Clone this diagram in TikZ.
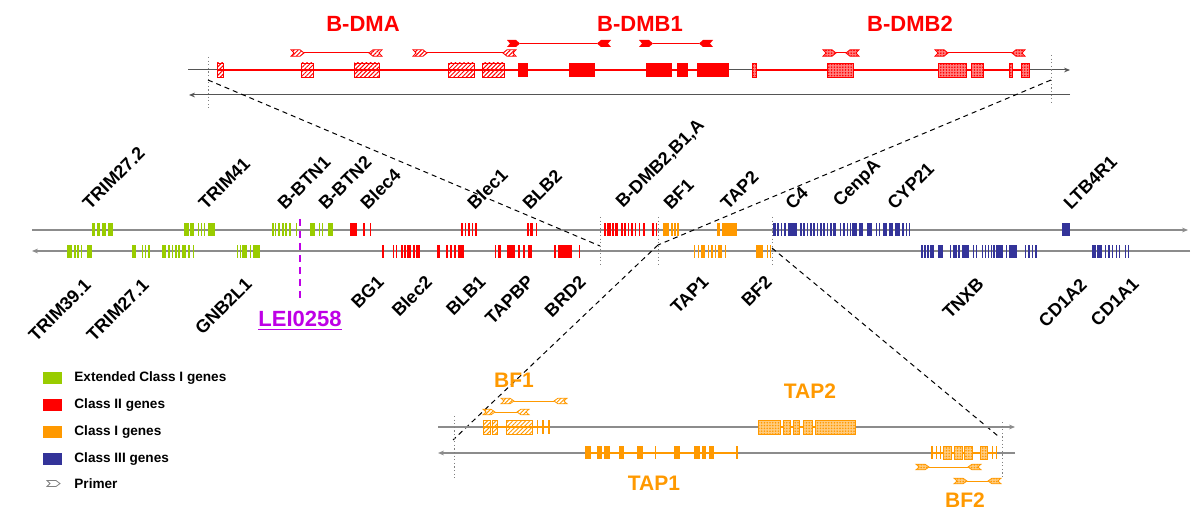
\documentclass[tikz,border=0pt]{standalone}
\usepackage{fontspec}
\setmainfont{Liberation Sans}
\usetikzlibrary{patterns.meta,arrows.meta}
\definecolor{cgreen}{RGB}{153,204,0}
\definecolor{cred}{RGB}{255,0,0}
\definecolor{corange}{RGB}{255,153,0}
\definecolor{cblue}{RGB}{51,51,153}
\definecolor{cmag}{RGB}{190,0,230}
\definecolor{lgray}{RGB}{140,140,140}
\definecolor{dgray}{RGB}{85,85,85}
\tikzset{
  hatchx/.style={pattern={Lines[angle=45,distance=1.5pt,line width=0.5pt]}, pattern color=#1, draw=#1, line width=0.4pt},
  checkx/.style={preaction={fill=#1!50}, pattern={Dots[radius=0.45pt,distance=1.4pt]}, pattern color=#1, draw=#1, line width=0.4pt},
  solidx/.style={fill=#1},
  glab/.style={font=\bfseries\fontsize{9}{9}\selectfont, rotate=45, inner sep=0pt},
  uplab/.style={glab, anchor=south west},
  lowlab/.style={glab, anchor=north east},
  title/.style={font=\bfseries\fontsize{11}{11}\selectfont, text=#1, inner sep=0pt},
  btitle/.style={font=\bfseries\fontsize{10.5}{10.5}\selectfont, text=corange, inner sep=0pt},
  mainline/.style={lgray, line width=0.75pt},
  panelline/.style={dgray, line width=0.5pt},
  tipx/.style={-{Stealth[length=3pt,width=2.4pt]}},
  dashx/.style={black, dash pattern=on 2.5pt off 2pt, line width=0.5pt},
  dotx/.style={gray, dash pattern=on 0.6pt off 1.2pt, line width=0.5pt},
  legtext/.style={font=\bfseries\fontsize{6.8}{6.8}\selectfont, anchor=west, inner sep=0pt},
}
% exons: style, ytop, ybottom, list a/b
\newcommand\exonset[4]{\foreach \a/\b in {#4} {\path[#1] (\a,#2) rectangle (\b,#3);}}
% forward primer x1 x2 y h style
\newcommand\fwdprim[5]{\path[#5] (#1,#3-#4) -- (#2-4,#3-#4) -- (#2,#3) -- (#2-4,#3+#4) -- (#1,#3+#4) -- (#1+3,#3) -- cycle;}
\newcommand\revprim[5]{\path[#5] (#2,#3-#4) -- (#1+4,#3-#4) -- (#1,#3) -- (#1+4,#3+#4) -- (#2,#3+#4) -- (#2-3,#3) -- cycle;}
% pair: x1 x2 x3 x4 y h style color
\newcommand\primpair[8]{\draw[#8, line width=0.5pt] (#2,#5) -- (#3,#5); \fwdprim{#1}{#2}{#5}{#6}{#7} \revprim{#3}{#4}{#5}{#6}{#7}}
\begin{document}
\begin{tikzpicture}[x=0.5pt,y=-0.5pt]
\path[use as bounding box] (0,0) rectangle (1200,518);

% ---------------- coordinates for zoom connectors
\coordinate (tl) at (208,80);
\coordinate (tr) at (1051,80);
\coordinate (ml) at (600,246);
\coordinate (mr) at (658,245);
\coordinate (ml2) at (658,245);
\coordinate (mr2) at (772,248);
\coordinate (bl) at (453,440);
\coordinate (br) at (998,436);

% ---------------- top panel
\draw[panelline, tipx] (188,70) -- (1070,70);
\draw[panelline, tipx] (1070,95) -- (189,95);
\draw[cred, line width=0.6pt] (218,70) -- (729,70);
\draw[cred, line width=0.6pt] (752,70) -- (1029,70);
\draw[dotx] (208,57) -- (208,108);
\draw[dotx] (1051,55) -- (1051,105);
\exonset{hatchx=cred}{63}{77}{217/223,301/313,354/379,448/474,482/504}
\exonset{solidx=cred}{63}{77}{518/528,569/595,646/672,677/688,697/729}
\exonset{checkx=cred}{63}{77}{752/756,827/853,938/966,971/983,1009/1012,1021/1029}
\primpair{291}{304}{369}{382}{53}{3.2}{hatchx=cred}{cred}
\primpair{413}{427}{503}{516}{53}{3.2}{hatchx=cred}{cred}
\primpair{507}{520}{597}{611}{43.5}{3.5}{solidx=cred}{cred}
\primpair{639}{653}{699}{713}{43.5}{3.5}{solidx=cred}{cred}
\primpair{823}{836}{846}{859}{53}{3.2}{checkx=cred}{cred}
\primpair{935}{948}{1012}{1025}{53}{3.2}{checkx=cred}{cred}
\node[title=cred] (tdma) at (363,24) {B-DMA};
\node[title=cred] (tdmb1) at (640,24) {B-DMB1};
\node[title=cred] (tdmb2) at (910,24) {B-DMB2};

% ---------------- main panel
\draw[mainline, tipx] (32,230) -- (1188,230);
\draw[mainline, tipx] (1190,251) -- (32,251);
% forward strand exons
\exonset{solidx=cgreen}{223}{236}{92/95,97/99.5,102/106,108/113,
 184/189,190/194,197.5/199,200.5/202,203.5/205,208/215,
 272/273.5,274.5/276,278/279.5,282/283.5,285/286.5,289/290.5,295.5/297,
 310/315,318.5/320,321.5/323,328/333}
\exonset{solidx=cred}{223}{236}{350/357,363/364.5,369.5/371,
 461/462.5,464.5/466,468/469.5,471.5/473,475/476.5,
 527/528.5,529.5/533,535.5/537,
 604/605.5,607/611,612/613.5,614.5/618,621/622.5,624/626,627.5/629,631/633,634.5/636,638.5/640,643/644.5,652/653.5,655.5/657}
\exonset{solidx=corange}{223}{236}{663/669,671/672.5,674/675.5,677/678.5,717/720,722/737}
\exonset{solidx=cblue}{223}{236}{773/775.5,777/778.5,780.5/782,784/786,788/797,
 800/801.5,803/804.5,806.5/808,810/811.5,813/814.5,816.5/818,820/821.5,823/824.5,826.5/828,830/831.5,
 833/836,839.5/841,843/844.5,846.5/848,849.5/851,852/857,858.5/863,867/872,875.5/877,878.5/880,883/887,888.5/893,895/900,902/903.5,905.5/907,908.5/910,
 1062/1070}
% reverse strand exons
\exonset{solidx=cgreen}{245}{258}{67/72,74/75.5,77/78.5,80.5/82,87/92,
 132/136,141.5/143,144.5/146,148/149.5,
 162/166,168/169.5,171.5/173,175/176.5,178/179.5,182/186,188/189.5,192.5/194,
 236.5/238,239.5/241,242/247,249.5/251,253/260}
\exonset{solidx=cred}{245}{258}{382/383.5,392.5/394,395.5/397,
 401/402.5,404/406,406.5/411,413/414.5,416/420,
 436.5/440,446/447.5,450/451.5,454/455.5,458/464,
 494.5/496,498/501,507/515,518/519.5,523/524.5,528/532,
 554/555.5,558/572,578.5/580}
\exonset{solidx=corange}{245}{258}{693.5/695,697.5/699,701/705,707.5/709,711/712.5,714.5/716,718/722,724.5/726,
 756/763,766.5/768,769.5/771}
\exonset{solidx=cblue}{245}{258}{921/922.5,924/925.5,927/928.5,930/933.5,938/943,949.5/951,953/957,958/960,962/969,972.5/974,975.5/977,981.5/983,984.5/986,987.5/989,990.5/992,993/994.5,996/1003,1005.5/1007,1009/1017,1024.5/1026,1028/1029.5,1031.5/1033,1035/1037,
 1092/1095.5,1096.5/1102,1104.5/1106,1108/1109.5,1111.5/1113,1115.5/1117,1118.5/1120,1124.5/1126,1127.5/1129}
% dotted region marks
\draw[dotx] (600,217) -- (600,265);
\draw[dotx] (658,217) -- (658,265);
\draw[dotx] (772,217) -- (772,265);
% LEI0258
\draw[cmag, line width=1.1pt, dash pattern=on 3.5pt off 2.5pt] (300,219) -- (300,300);
\node[font=\bfseries\fontsize{11}{11}\selectfont, text=cmag, inner sep=0pt] (lei) at (300,321) {\underline{LEI0258}};
% gene labels
\node[uplab] (g1) at (90,211) {TRIM27.2};
\node[uplab] (g2) at (206,211) {TRIM41};
\node[uplab] (g3) at (285,211) {B-BTN1};
\node[uplab] (g4) at (326,211) {B-BTN2};
\node[uplab] (g5) at (368,211) {Blec4};
\node[uplab] (g6) at (475,211) {Blec1};
\node[uplab] (g7) at (530,211) {BLB2};
\node[uplab] (g8) at (625,211) {B-DMB2,B1,A};
\node[uplab] (g9) at (671,211) {BF1};
\node[uplab] (g10) at (728,211) {TAP2};
\node[uplab] (g11) at (793,211) {C4};
\node[uplab] (g12) at (843,211) {CenpA};
\node[uplab] (g13) at (895,211) {CYP21};
\node[uplab] (g14) at (1071,211) {LTB4R1};
\node[lowlab] (h1) at (83,277) {TRIM39.1};
\node[lowlab] (h2) at (141,277) {TRIM27.1};
\node[lowlab] (h3) at (244,276) {GNB2L1};
\node[lowlab] (h4) at (376,274) {BG1};
\node[lowlab] (h5) at (424,274) {Blec2};
\node[lowlab] (h6) at (478,274) {BLB1};
\node[lowlab] (h7) at (526,274) {TAPBP};
\node[lowlab] (h8) at (578,274) {BRD2};
\node[lowlab] (h9) at (701,274) {TAP1};
\node[lowlab] (h10) at (764,274) {BF2};
\node[lowlab] (h11) at (976,276) {TNXB};
\node[lowlab] (h12) at (1079,277) {CD1A2};
\node[lowlab] (h13) at (1131,276) {CD1A1};

% ---------------- zoom connectors
\draw[dashx] (tl) -- (ml);
\draw[dashx] (tr) -- (mr);
\draw[dashx] (ml2) -- (bl);
\draw[dashx] (mr2) -- (br);

% ---------------- bottom panel
\draw[lgray, line width=0.6pt, tipx] (438,427) -- (1015,427);
\draw[lgray, line width=0.6pt, tipx] (1015,453) -- (438,453);
\draw[dotx] (454,416) -- (454,479);
\draw[dotx] (1002,422) -- (1002,479);
\draw[corange, line width=0.6pt] (483,427) -- (549,427);
\draw[corange, line width=0.6pt] (758,427) -- (855,427);
\draw[corange, line width=0.6pt] (585,453) -- (737,453);
\draw[corange, line width=0.6pt] (931,453) -- (997,453);
\exonset{hatchx=corange}{420}{434}{483/490,492/497,506/532}
\exonset{solidx=corange}{420}{434}{536.5/538,542/543.5,548/549.5}
\exonset{checkx=corange}{420}{434}{758/780,783/790,793/799,803/812,815/855}
\exonset{solidx=corange}{446}{459}{585/591,597/602,604/610,619/624,637/643,654.5/656,674/680,694/700,702/706,709/714,735.5/737.5}
\exonset{solidx=corange}{446}{459}{931/932.5,935.5/937,939.5/941,991.5/993,995.5/997}
\exonset{checkx=corange}{446}{459}{943/951,954/962,964/972,980/987}
\primpair{501}{514}{554}{567}{401}{2.8}{hatchx=corange}{corange}
\primpair{483}{495}{517}{529}{412}{2.8}{hatchx=corange}{corange}
\primpair{916}{929}{968}{981}{467}{2.8}{checkx=corange}{corange}
\primpair{954}{967}{988}{1001}{481}{2.8}{checkx=corange}{corange}
\node[btitle] (bbf1) at (514,380) {BF1};
\node[btitle] (btap2) at (810,391) {TAP2};
\node[btitle] (btap1) at (654,483) {TAP1};
\node[btitle] (bbf2) at (965,500) {BF2};

% ---------------- legend
\fill[cgreen] (43,372) rectangle (62,384);
\fill[cred] (43,399) rectangle (62,411);
\fill[corange] (43,426) rectangle (62,438);
\fill[cblue] (43,453) rectangle (62,465);
\fwdprim{47}{60}{483.5}{3}{draw=gray, line width=0.4pt}
\node[legtext] (l1) at (74,378) {Extended Class I genes};
\node[legtext] (l2) at (74,405) {Class II genes};
\node[legtext] (l3) at (74,432) {Class I genes};
\node[legtext] (l4) at (74,459) {Class III genes};
\node[legtext] (l5) at (74,484) {Primer};
\end{tikzpicture}
\end{document}
